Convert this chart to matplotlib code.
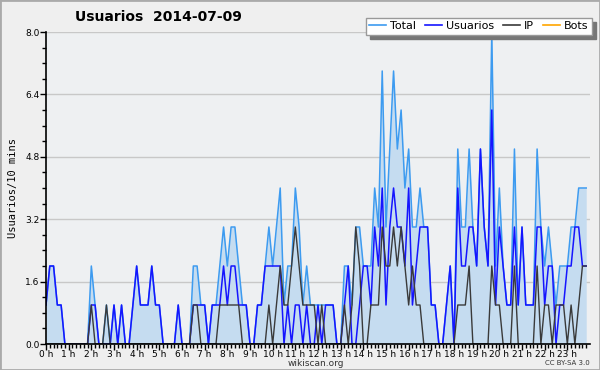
import numpy as np
import matplotlib.pyplot as plt
from matplotlib.lines import Line2D
from matplotlib.patches import Rectangle

# Usuarios por intervalos de 10 minutos (144 puntos, 0h00 .. 23h50)
usuarios = [1, 2, 2, 1, 1, 0, 0, 0, 0, 0, 0, 0,
            1, 1, 0, 0, 0, 0, 1, 0, 1, 0, 0, 1,
            2, 1, 1, 1, 2, 1, 1, 0, 0, 0, 0, 1,
            0, 0, 0, 1, 1, 1, 1, 0, 1, 1, 1, 2,
            1, 2, 2, 1, 1, 1, 0, 0, 1, 1, 2, 2,
            2, 2, 2, 0, 1, 0, 1, 1, 0, 1, 0, 0,
            1, 0, 1, 1, 1, 0, 0, 1, 2, 0, 0, 1,
            2, 2, 1, 3, 2, 4, 1, 3, 4, 3, 3, 2,
            4, 1, 2, 3, 3, 3, 1, 1, 0, 0, 1, 2,
            0, 4, 2, 2, 3, 3, 2, 5, 3, 2, 6, 1,
            3, 2, 1, 1, 3, 1, 3, 1, 1, 1, 3, 3,
            1, 2, 2, 0, 1, 1, 2, 2, 3, 3, 2, 2]
ip = [0, 0, 0, 0, 0, 0, 0, 0, 0, 0, 0, 0,
      1, 0, 0, 0, 1, 0, 0, 0, 0, 0, 0, 0,
      0, 0, 0, 0, 0, 0, 0, 0, 0, 0, 0, 0,
      0, 0, 0, 1, 1, 0, 0, 0, 0, 0, 1, 1,
      1, 1, 1, 1, 0, 0, 0, 0, 0, 0, 0, 1,
      0, 1, 2, 1, 1, 2, 3, 2, 1, 1, 1, 1,
      0, 1, 0, 0, 0, 0, 0, 1, 0, 1, 3, 2,
      0, 0, 1, 1, 1, 3, 2, 2, 3, 2, 3, 2,
      1, 2, 1, 1, 0, 0, 0, 0, 0, 0, 0, 0,
      0, 1, 1, 1, 2, 0, 0, 0, 0, 0, 2, 1,
      1, 0, 0, 0, 2, 0, 0, 0, 0, 0, 2, 0,
      1, 1, 0, 1, 1, 1, 0, 1, 0, 1, 2, 2]
total = [1, 2, 2, 1, 1, 0, 0, 0, 0, 0, 0, 0,
         2, 1, 0, 0, 1, 0, 1, 0, 1, 0, 0, 1,
         2, 1, 1, 1, 2, 1, 1, 0, 0, 0, 0, 1,
         0, 0, 0, 2, 2, 1, 1, 0, 1, 1, 2, 3,
         2, 3, 3, 2, 1, 1, 0, 0, 1, 1, 2, 3,
         2, 3, 4, 1, 2, 2, 4, 3, 1, 2, 1, 1,
         1, 1, 1, 1, 1, 0, 0, 2, 2, 1, 3, 3,
         2, 2, 2, 4, 3, 7, 3, 5, 7, 5, 6, 4,
         5, 3, 3, 4, 3, 3, 1, 1, 0, 0, 1, 2,
         0, 5, 3, 3, 5, 3, 2, 5, 3, 2, 8, 2,
         4, 2, 1, 1, 5, 1, 3, 1, 1, 1, 5, 3,
         2, 3, 2, 1, 2, 2, 2, 3, 3, 4, 4, 4]
bots = [0] * 144

horas = np.arange(len(total)) / 6.0
etiquetas_x = ['%d h' % h for h in range(24)]

plt.rcParams['font.family'] = 'DejaVu Sans'

fig = plt.figure(figsize=(6, 3.7), dpi=100, facecolor='#efefef')
ax = fig.add_axes([46 / 600, 26 / 370, 544 / 600, 312 / 370])
ax.set_facecolor('#eef0f2')

# marco exterior
fig.patches.append(Rectangle((0, 0), 1, 1, transform=fig.transFigure,
                             fill=False, edgecolor='#aaaaaa', linewidth=2))

c_total = '#3d9bf0'
c_usu = '#1515ff'
c_ip = '#3a3a3a'
c_bots = '#ffa500'

ax.plot(horas, bots, color=c_bots, lw=1, zorder=1)
ax.fill_between(horas, total, 0, color='#c5dcf0', lw=0, zorder=2)
ax.plot(horas, total, color=c_total, lw=1.1, zorder=3)
ax.plot(horas, usuarios, color=c_usu, lw=1.1, zorder=4)
ax.plot(horas, ip, color=c_ip, lw=1.0, zorder=5)

ax.set_xlim(0, 24)
ax.set_ylim(0, 8)
ax.set_xticks(range(24))
ax.set_xticklabels(etiquetas_x, fontsize=6.5)
ax.set_xticks(np.arange(0, 24, 1 / 6), minor=True)
ax.set_yticks(np.arange(0, 8.01, 1.6))
ax.set_yticklabels(['%.1f' % v for v in np.arange(0, 8.01, 1.6)], fontsize=6.5)
ax.set_yticks(np.arange(0, 8.01, 0.4), minor=True)
ax.tick_params(axis='both', which='major', length=4, width=1, pad=0.5)
ax.tick_params(axis='both', which='minor', length=3, width=1)
ax.grid(axis='y', which='major', color='#c8c8c8', lw=1)
ax.set_axisbelow(True)
for s in ['top', 'right']:
    ax.spines[s].set_visible(False)
for s in ['left', 'bottom']:
    ax.spines[s].set_linewidth(1.2)
    ax.spines[s].set_zorder(6)

ax.set_ylabel('Usuarios/10 mins', fontsize=7.5, family='DejaVu Sans Mono', labelpad=5)

fig.text(75 / 600, 1 - 17 / 370, 'Usuarios  2014-07-09', fontsize=10,
         fontweight='bold', va='center', ha='left')
fig.text(316 / 600, 1 - 363 / 370, 'wikiscan.org', fontsize=6.5, ha='center', va='center',
         color='#333333')
fig.text(590 / 600, 1 - 363 / 370, 'CC BY-SA 3.0', fontsize=5, ha='right', va='center',
         color='#333333')

handles = [Line2D([], [], color=c, lw=1.2) for c in [c_total, c_usu, c_ip, c_bots]]
leg = fig.legend(handles, ['Total', 'Usuarios', 'IP', 'Bots'], ncol=4,
                 loc='upper right', bbox_to_anchor=(592 / 600, 1 - 18 / 370),
                 fontsize=8, frameon=True, fancybox=False,
                 shadow={'color': '#777777', 'alpha': 1, 'ox': 3, 'oy': -3},
                 handlelength=1.5, handletextpad=0.4, columnspacing=0.8,
                 borderpad=0.3, borderaxespad=0)
leg.get_frame().set_edgecolor('#999999')
leg.get_frame().set_linewidth(1)

fig.savefig('out.png', dpi=100, facecolor=fig.get_facecolor())
